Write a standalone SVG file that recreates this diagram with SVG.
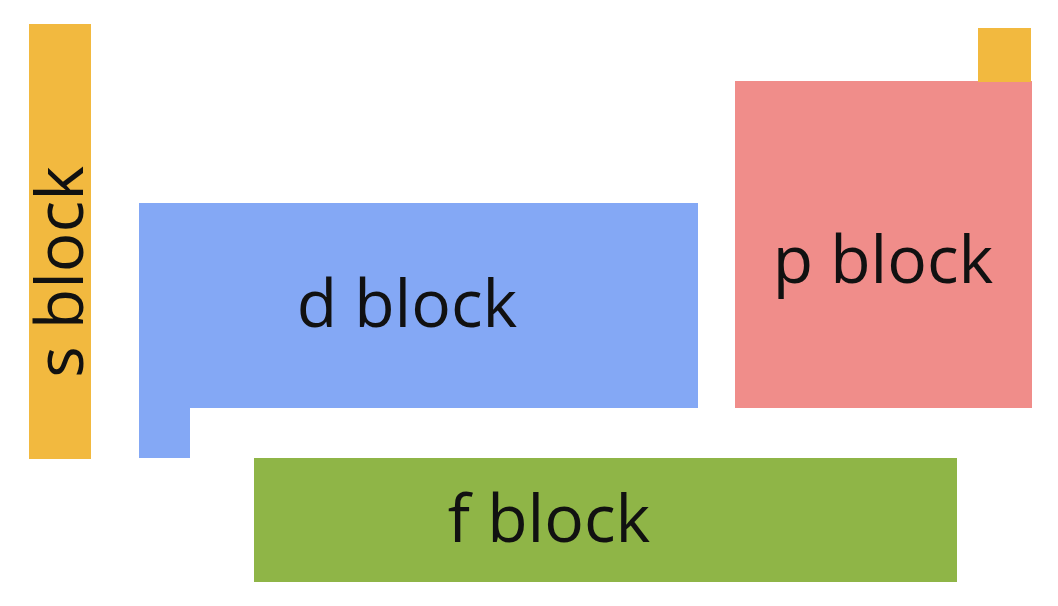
<svg xmlns="http://www.w3.org/2000/svg" width="1058" height="606" viewBox="0 0 1058 606">
<style>text{font-family:"Open Sans","Noto Sans",sans-serif;font-size:66px;fill:#111}</style>
<rect width="1058" height="606" fill="#fff"/>
<g id="s"><rect x="29" y="24" width="62" height="435" fill="#f2b93f"/><text transform="translate(83,272) rotate(-90)" text-anchor="middle">s block</text></g>
<g id="d"><rect x="139" y="203" width="559" height="205" fill="#84a8f5"/><rect x="139" y="403" width="51" height="55" fill="#84a8f5"/><text x="407" y="327" text-anchor="middle">d block</text></g>
<g id="p"><rect x="735" y="81" width="297" height="327" fill="#f08d8a"/><rect x="978" y="28" width="53" height="54" fill="#f2b93f"/><text x="883" y="283" text-anchor="middle">p block</text></g>
<g id="f"><rect x="254" y="458" width="703" height="124" fill="#8fb547"/><text x="549" y="542" text-anchor="middle">f block</text></g>
<g id="connectors"/>
</svg>
